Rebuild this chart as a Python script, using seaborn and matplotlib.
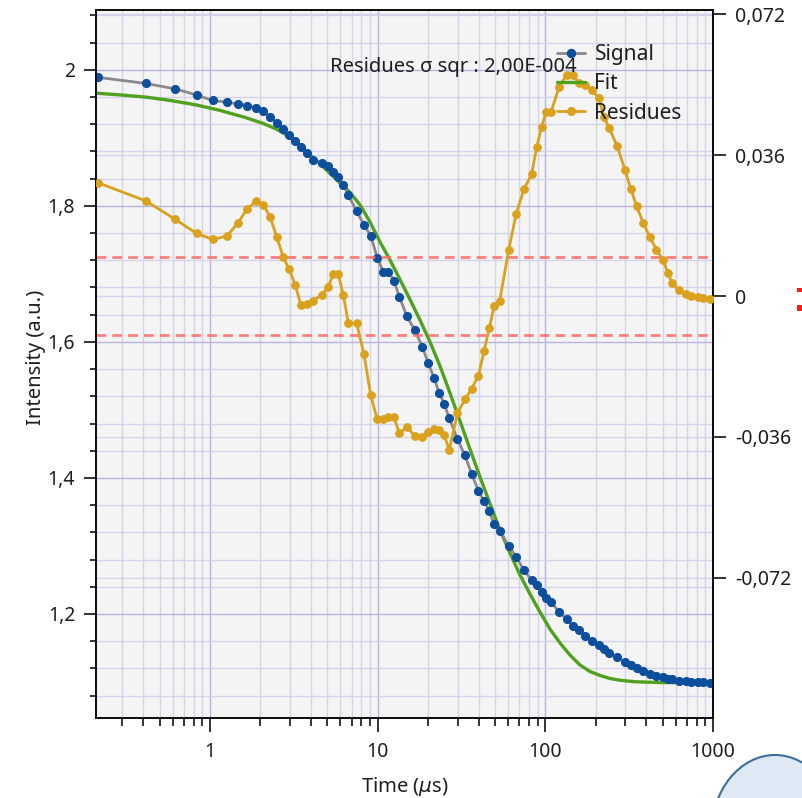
import numpy as np
import pandas as pd
import matplotlib
matplotlib.use("Agg")
import matplotlib.pyplot as plt
import seaborn as sns
from matplotlib.lines import Line2D
from matplotlib.patches import Ellipse, Rectangle
from matplotlib.ticker import FixedLocator, FixedFormatter, NullFormatter, LogLocator, MultipleLocator

# ---------------- data ----------------
time_us = [0.214, 0.415, 0.621, 0.833, 1.038, 1.258, 1.463, 1.662, 1.881, 2.079,
           2.279, 2.499, 2.736, 2.971, 3.226, 3.488, 3.773, 4.113, 4.636, 5.075,
           5.436, 5.823, 6.236, 6.679, 7.495, 8.284, 9.084, 9.945, 10.80, 11.57,
           12.51, 13.49, 14.95, 16.69, 18.50, 20.03, 21.66, 23.30, 24.93, 26.73,
           29.92, 33.16, 36.35, 39.92, 43.16, 46.30, 49.53, 53.41, 60.51, 67.07,
           74.55, 82.84, 88.76, 95.06, 101.3, 108.3, 121.0, 134.0, 146.7, 158.6,
           173.4, 190.2, 208.7, 223.6, 240.4, 268.5, 298.4, 323.9, 350.4, 383.6,
           418.8, 459.7, 502.8, 538.4, 568.7, 626.1, 687.3, 743.2, 816.1, 874.2,
           958.3]

signal = [1.989, 1.980, 1.972, 1.963, 1.955, 1.9525, 1.950, 1.9475, 1.944, 1.939,
          1.931, 1.9225, 1.913, 1.904, 1.895, 1.886, 1.8775, 1.868, 1.863, 1.858,
          1.850, 1.843, 1.831, 1.816, 1.792, 1.772, 1.756, 1.724, 1.703, 1.703,
          1.690, 1.666, 1.6375, 1.617, 1.592, 1.569, 1.547, 1.525, 1.509, 1.488,
          1.457, 1.433, 1.406, 1.381, 1.366, 1.3515, 1.332, 1.322, 1.300, 1.284,
          1.264, 1.250, 1.243, 1.232, 1.2235, 1.217, 1.203, 1.192, 1.182, 1.176,
          1.168, 1.160, 1.154, 1.148, 1.143, 1.137, 1.129, 1.125, 1.121, 1.116,
          1.112, 1.109, 1.107, 1.105, 1.104, 1.102, 1.101, 1.100, 1.100, 1.0996,
          1.099]

residues = [0.0290, 0.0243, 0.0196, 0.0160, 0.0145, 0.0153, 0.0186, 0.0222, 0.0243, 0.0234,
            0.0203, 0.0152, 0.0099, 0.0068, 0.0028, -0.0023, -0.0019, -0.0012, 0.0003, 0.0024,
            0.0056, 0.0056, 0.0003, -0.0068, -0.0070, -0.0148, -0.0253, -0.0315, -0.0315, -0.0308,
            -0.0310, -0.0351, -0.0334, -0.0358, -0.0361, -0.0347, -0.0340, -0.0342, -0.0355, -0.0393,
            -0.0299, -0.0264, -0.0237, -0.0203, -0.0140, -0.0082, -0.0025, -0.0013, 0.0119, 0.0211,
            0.0273, 0.0312, 0.0380, 0.0433, 0.0471, 0.0471, 0.0535, 0.0565, 0.0565, 0.0544,
            0.0539, 0.0526, 0.0505, 0.0458, 0.0429, 0.0383, 0.0322, 0.0273, 0.0230, 0.0187,
            0.0152, 0.0119, 0.0092, 0.0060, 0.0034, 0.0015, 0.0005, 0.0000, -0.0003, -0.0006,
            -0.0008]

fit_time_us = [0.209, 0.2905, 0.415, 0.5772, 0.8251, 1.147, 1.617, 2.070, 2.475, 2.958,
               3.441, 3.948, 4.529, 5.195, 5.960, 6.836, 7.845, 8.999, 10.32, 11.84,
               13.58, 15.58, 17.87, 20.51, 23.52, 26.98, 30.96, 35.51, 40.74, 46.73,
               53.62, 61.51, 70.56, 80.95, 92.87, 106.5, 122.2, 140.2, 160.8, 184.5,
               211.7, 242.8, 278.6, 342.2, 482.4, 1000.0]
fit_values = [1.9657, 1.9632, 1.9599, 1.9551, 1.9485, 1.9404, 1.9301, 1.9213, 1.9132, 1.9022,
              1.8897, 1.8750, 1.8618, 1.8478, 1.8338, 1.8199, 1.8015, 1.7765, 1.7471, 1.7206,
              1.6919, 1.6625, 1.6324, 1.6000, 1.5647, 1.5250, 1.4838, 1.4426, 1.4015, 1.3625,
              1.3235, 1.2897, 1.2574, 1.2294, 1.2029, 1.1779, 1.1574, 1.1397, 1.1250, 1.1154,
              1.1096, 1.1051, 1.1025, 1.1003, 1.0991, 1.0988]

x_ticks = [1, 10, 100, 1000]
x_labels = ["1", "10", "100", "1000"]
left_ticks = [1.2, 1.4, 1.6, 1.8, 2.0]
left_labels = ["1,2", "1,4", "1,6", "1,8", "2"]
right_ticks = [-0.072, -0.036, 0.0, 0.036, 0.072]
right_labels = ["-0,072", "-0,036", "0", "0,036", "0,072"]
residue_band = [-0.01, 0.01]
series_names = ["Signal", "Fit", "Residues"]
sigma_text = "Residues σ sqr : 2,00E-004"

# ---------------- style ----------------
sns.set_theme(style="white")
plt.rcParams["font.family"] = ["Noto Sans", "DejaVu Sans"]
plt.rcParams["mathtext.fontset"] = "dejavusans"

W, H = 803, 798
BLUE = "#0e4f9d"
GRAY = "#8a8a8a"
GREEN = "#4fa11e"
GOLD = "#d9a11c"
RED = "#ff6b6b"
GRID_MAJ = "#b6b6dc"
GRID_MIN = "#d3d3ea"
TXT = "#1e1e1e"
FS_TICK = 14
FS_LAB = 14.5

fig = plt.figure(figsize=(W / 100, H / 100), dpi=100)
fig.patch.set_facecolor("white")
L, R, T, B = 96, 713, 10, 718
ax = fig.add_axes([L / W, 1 - B / H, (R - L) / W, (B - T) / H])
ax.set_facecolor("#f4f4f4")
ax.set_xscale("log")
xlim = (0.209, 1000)
ylim = (1.047, 2.088)
rlim = (-0.1078, 0.0731)
ax.set_xlim(*xlim)
ax.set_ylim(*ylim)

# grid
ax.set_axisbelow(True)
ax.xaxis.set_major_locator(FixedLocator(x_ticks))
ax.xaxis.set_major_formatter(FixedFormatter(x_labels))
ax.xaxis.set_minor_locator(LogLocator(base=10, subs=np.arange(2, 10)))
ax.xaxis.set_minor_formatter(NullFormatter())
ax.yaxis.set_major_locator(FixedLocator(left_ticks))
ax.yaxis.set_major_formatter(FixedFormatter(left_labels))
ax.yaxis.set_minor_locator(MultipleLocator(0.04))
ax.grid(which="major", color=GRID_MAJ, lw=1.0)
ax.grid(which="minor", color=GRID_MIN, lw=1.0)
# horizontal grid for right-axis ticks, drawn in the main axes (below the data)
for rt in right_ticks:
    yy = ylim[0] + (rt - rlim[0]) / (rlim[1] - rlim[0]) * (ylim[1] - ylim[0])
    ax.axhline(yy, color=GRID_MIN, lw=1.0, zorder=0.5)

# data
df = pd.DataFrame({"t": time_us, "signal": signal, "residues": residues})
fit_df = pd.DataFrame({"t": fit_time_us, "fit": fit_values})

sns.lineplot(data=df, x="t", y="signal", ax=ax, color=GRAY, lw=2, marker="o",
             markersize=5.8, markerfacecolor=BLUE, markeredgecolor=BLUE,
             legend=False, zorder=4, errorbar=None)
sns.lineplot(data=fit_df, x="t", y="fit", ax=ax, color=GREEN, lw=2.4,
             legend=False, zorder=3, errorbar=None)

ax2 = ax.twinx()
ax2.set_ylim(*rlim)
for band in residue_band:
    ax2.axhline(band, color=RED, lw=2, ls=(0, (3.5, 2.2)), alpha=0.85, zorder=1)
sns.lineplot(data=df, x="t", y="residues", ax=ax2, color=GOLD, lw=2, marker="o",
             markersize=5.5, markerfacecolor=GOLD, markeredgecolor=GOLD,
             legend=False, zorder=3, errorbar=None)
ax2.set_xlim(*xlim)
ax2.yaxis.set_major_locator(FixedLocator(right_ticks))
ax2.yaxis.set_major_formatter(FixedFormatter(right_labels))
ax2.set_ylabel("")
ax2.grid(False)

# spines / ticks
for a in (ax, ax2):
    for s in a.spines.values():
        s.set_color("#111111")
        s.set_linewidth(1.4)
ax.tick_params(axis="x", which="major", direction="out", length=10, width=1.2,
               color="#111111", labelsize=FS_TICK, labelcolor=TXT, pad=7, bottom=True)
ax.tick_params(axis="x", which="minor", direction="out", length=5.5, width=1.2,
               color="#111111", bottom=True)
ax.tick_params(axis="y", which="major", direction="out", length=9, width=1.2,
               color="#111111", labelsize=FS_TICK, labelcolor=TXT, pad=6, left=True)
ax.tick_params(axis="y", which="minor", direction="out", length=4.5, width=1.2,
               color="#111111", left=True)
ax2.tick_params(axis="y", which="major", direction="out", length=9, width=1.2,
                color="#111111", labelsize=FS_TICK, labelcolor=TXT, pad=7, right=True)
ax2.tick_params(axis="y", which="minor", right=False)

ax.set_xlabel("Time ($\\mu$s)", fontsize=FS_LAB, color=TXT)
ax.xaxis.set_label_coords(0.5, -0.081)
ax.set_ylabel("Intensity (a.u.)", fontsize=FS_LAB, color=TXT)
ax.yaxis.set_label_coords(-0.098, 0.51)
ax.yaxis.label.set_va("center")

# legend
handles = [
    Line2D([], [], color=GRAY, lw=2, marker="o", markersize=5.8, mfc=BLUE, mec=BLUE),
    Line2D([], [], color=GREEN, lw=2.4),
    Line2D([], [], color=GOLD, lw=2, marker="o", markersize=5.5, mfc=GOLD, mec=GOLD),
]
leg = ax2.legend(handles, series_names, loc="upper left",
                 bbox_to_anchor=(557 / W, 1 - 44 / H), bbox_transform=fig.transFigure,
                 frameon=False, fontsize=15, handlelength=1.35, handletextpad=0.45,
                 labelspacing=0.4, borderpad=0, borderaxespad=0, numpoints=1)
for txt in leg.get_texts():
    txt.set_color(TXT)

fig.text(330 / W, 1 - 67 / H, sigma_text, ha="left", va="center", fontsize=14.5, color=TXT)

# decorations outside the chart
fig.patches.append(Rectangle((797 / W, 1 - 292 / H), 7 / W, 4 / H, transform=fig.transFigure,
                             facecolor="#ff1a1a", edgecolor="none"))
fig.patches.append(Rectangle((797 / W, 1 - 311 / H), 7 / W, 6 / H, transform=fig.transFigure,
                             facecolor="#ff1a1a", edgecolor="none"))
fig.patches.append(Ellipse((775 / W, 1 - 835 / H), 128 / W, 160 / H, transform=fig.transFigure,
                           facecolor="#dfe9f5", edgecolor="#3d6d99", lw=1.5))

fig.savefig("out.png", dpi=100, facecolor="white")
